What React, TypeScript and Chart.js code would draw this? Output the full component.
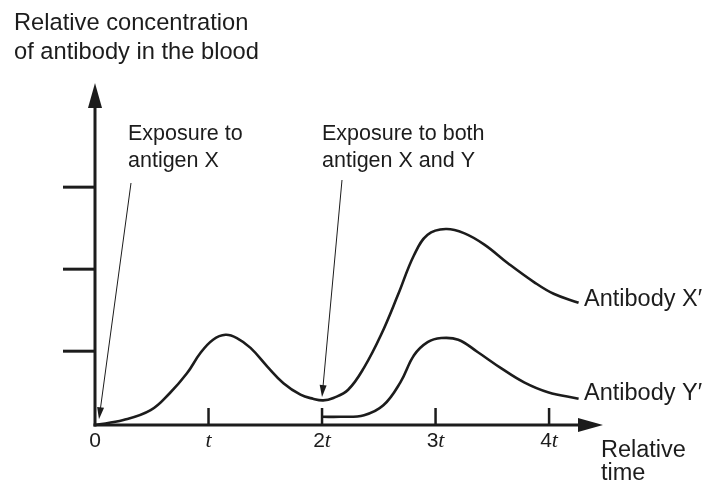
import React, { useEffect, useRef } from "react";
import { Chart, registerables } from "chart.js";

Chart.register(...registerables);

// ---- data (x in units of t, y in relative concentration units) ----
const X_TICKS = [1, 2, 3, 4];
const X_TICK_NUM = ["0", "", "2", "3", "4"];
const X_TICK_T = ["", "t", "t", "t", "t"];
const Y_TICKS = [0.9, 1.9, 2.9];

const ANTIBODY_X_T = [0, 0.25, 0.49, 0.66, 0.81, 0.93, 1.04, 1.15, 1.25, 1.37, 1.52, 1.66, 1.81, 1.92, 2.01, 2.1, 2.23, 2.37, 2.52, 2.67, 2.81, 2.93, 3.09, 3.25, 3.43, 3.64, 3.87, 4.04, 4.26];
const ANTIBODY_X_V = [0, 0.06, 0.18, 0.39, 0.63, 0.88, 1.04, 1.1, 1.06, 0.94, 0.71, 0.51, 0.37, 0.32, 0.3, 0.33, 0.43, 0.7, 1.1, 1.59, 2.07, 2.32, 2.39, 2.34, 2.2, 1.97, 1.74, 1.6, 1.49];

const ANTIBODY_Y_T = [2.0, 2.16, 2.37, 2.54, 2.69, 2.81, 2.93, 3.05, 3.2, 3.37, 3.58, 3.78, 3.99, 4.26];
const ANTIBODY_Y_V = [0.1, 0.1, 0.12, 0.24, 0.52, 0.85, 1.01, 1.06, 1.04, 0.89, 0.69, 0.52, 0.4, 0.32];

const X_MAX = 4.475;
const Y_MAX = 4.17;

const INK = "#1c1c1c";
const SANS = '"Liberation Sans", Arial, sans-serif';
const SERIF = '"Liberation Serif", "Times New Roman", serif';

function arrowHead(ctx: CanvasRenderingContext2D, tx: number, ty: number, fx: number, fy: number, len: number, half: number) {
  const dx = tx - fx, dy = ty - fy;
  const d = Math.hypot(dx, dy);
  const ux = dx / d, uy = dy / d;
  const bx = tx - ux * len, by = ty - uy * len;
  ctx.beginPath();
  ctx.moveTo(tx, ty);
  ctx.lineTo(bx - uy * half, by + ux * half);
  ctx.lineTo(bx + uy * half, by - ux * half);
  ctx.closePath();
  ctx.fill();
}

const decorPlugin = {
  id: "decor",
  afterDraw(chart: any) {
    const ctx: CanvasRenderingContext2D = chart.ctx;
    const xs = chart.scales.x;
    const ys = chart.scales.y;
    const x0 = xs.getPixelForValue(0);
    const y0 = ys.getPixelForValue(0);
    const xEnd = xs.getPixelForValue(X_MAX);
    const yTop = ys.getPixelForValue(Y_MAX);
    ctx.save();
    ctx.strokeStyle = INK;
    ctx.fillStyle = INK;
    ctx.lineCap = "butt";

    // axes
    ctx.lineWidth = 3;
    ctx.beginPath();
    ctx.moveTo(x0, y0 + 1.5);
    ctx.lineTo(x0, yTop + 20);
    ctx.stroke();
    arrowHead(ctx, x0, yTop, x0, y0, 25, 7);
    ctx.beginPath();
    ctx.moveTo(x0 - 1.5, y0);
    ctx.lineTo(xEnd - 20, y0);
    ctx.stroke();
    arrowHead(ctx, xEnd, y0, x0, y0, 25, 7);

    // x ticks (upward)
    ctx.lineWidth = 2.5;
    X_TICKS.forEach((v) => {
      const px = xs.getPixelForValue(v);
      ctx.beginPath();
      ctx.moveTo(px, y0);
      ctx.lineTo(px, y0 - 17);
      ctx.stroke();
    });
    // y ticks (left)
    ctx.lineWidth = 3;
    Y_TICKS.forEach((v) => {
      const py = ys.getPixelForValue(v);
      ctx.beginPath();
      ctx.moveTo(x0 - 32, py);
      ctx.lineTo(x0, py);
      ctx.stroke();
    });

    // x tick labels
    ctx.textBaseline = "middle";
    ctx.textAlign = "left";
    X_TICK_NUM.forEach((num, i) => {
      const px = xs.getPixelForValue(i);
      ctx.font = `21px ${SANS}`;
      const wn = ctx.measureText(num).width;
      ctx.font = `italic 22px ${SERIF}`;
      const wt = ctx.measureText(X_TICK_T[i]).width;
      const start = px - (wn + wt) / 2;
      ctx.font = `21px ${SANS}`;
      ctx.fillText(num, start, y0 + 16);
      ctx.font = `italic 22px ${SERIF}`;
      ctx.fillText(X_TICK_T[i], start + wn, y0 + 16);
    });

    // text labels
    ctx.font = `23.7px ${SANS}`;
    ctx.fillText("Relative concentration", 14, 23);
    ctx.fillText("of antibody in the blood", 14, 52);

    ctx.font = `21.5px ${SANS}`;
    ctx.fillText("Exposure to", 128, 134);
    ctx.fillText("antigen X", 128, 161);
    ctx.fillText("Exposure to both", 322, 134);
    ctx.fillText("antigen X and Y", 322, 161);

    ctx.font = `23.5px ${SANS}`;
    ctx.fillText("Antibody X\u2032", 584, 300);
    ctx.fillText("Antibody Y\u2032", 584, 394);
    ctx.fillText("Relative", 601, 451);
    ctx.fillText("time", 601, 474);

    // annotation arrows
    ctx.lineWidth = 1;
    const a1x = xs.getPixelForValue(0.035), a1y = ys.getPixelForValue(0.07);
    const a1fx = 131, a1fy = 183;
    ctx.beginPath();
    ctx.moveTo(a1fx, a1fy);
    ctx.lineTo(a1x + (a1fx - a1x) * 0.04, a1y + (a1fy - a1y) * 0.04);
    ctx.stroke();
    arrowHead(ctx, a1x, a1y, a1fx, a1fy, 12, 3.5);

    const a2x = xs.getPixelForValue(2.0), a2y = ys.getPixelForValue(0.34);
    const a2fx = 342, a2fy = 180;
    ctx.beginPath();
    ctx.moveTo(a2fx, a2fy);
    ctx.lineTo(a2x + (a2fx - a2x) * 0.04, a2y + (a2fy - a2y) * 0.04);
    ctx.stroke();
    arrowHead(ctx, a2x, a2y, a2fx, a2fy, 12, 3.5);

    ctx.restore();
  },
};

export default function App() {
  const ref = useRef<HTMLCanvasElement | null>(null);
  useEffect(() => {
    if (!ref.current) return;
    const toPts = (xs: number[], ys: number[]) => xs.map((x, i) => ({ x, y: ys[i] }));
    const chart = new Chart(ref.current, {
      type: "scatter",
      data: {
        datasets: [
          {
            label: "Antibody X\u2032",
            data: toPts(ANTIBODY_X_T, ANTIBODY_X_V),
            showLine: true,
            borderColor: INK,
            borderWidth: 2.6,
            pointRadius: 0,
            tension: 0.4,
            clip: false,
          } as any,
          {
            label: "Antibody Y\u2032",
            data: toPts(ANTIBODY_Y_T, ANTIBODY_Y_V),
            showLine: true,
            borderColor: INK,
            borderWidth: 2.6,
            pointRadius: 0,
            tension: 0.4,
            clip: false,
          } as any,
        ],
      },
      options: {
        animation: false,
        responsive: false,
        devicePixelRatio: 1,
        layout: { padding: { left: 95, top: 83, right: 107, bottom: 59 } },
        plugins: { legend: { display: false }, tooltip: { enabled: false } },
        scales: {
          x: { type: "linear", display: false, min: 0, max: X_MAX },
          y: { type: "linear", display: false, min: 0, max: Y_MAX },
        },
      },
      plugins: [decorPlugin],
    });
    return () => chart.destroy();
  }, []);
  return (
    <div style={{ position: "fixed", left: 0, top: 0, width: 710, height: 484, background: "#fff" }}>
      <canvas ref={ref} width={710} height={484} style={{ width: 710, height: 484, display: "block" }} />
    </div>
  );
}
